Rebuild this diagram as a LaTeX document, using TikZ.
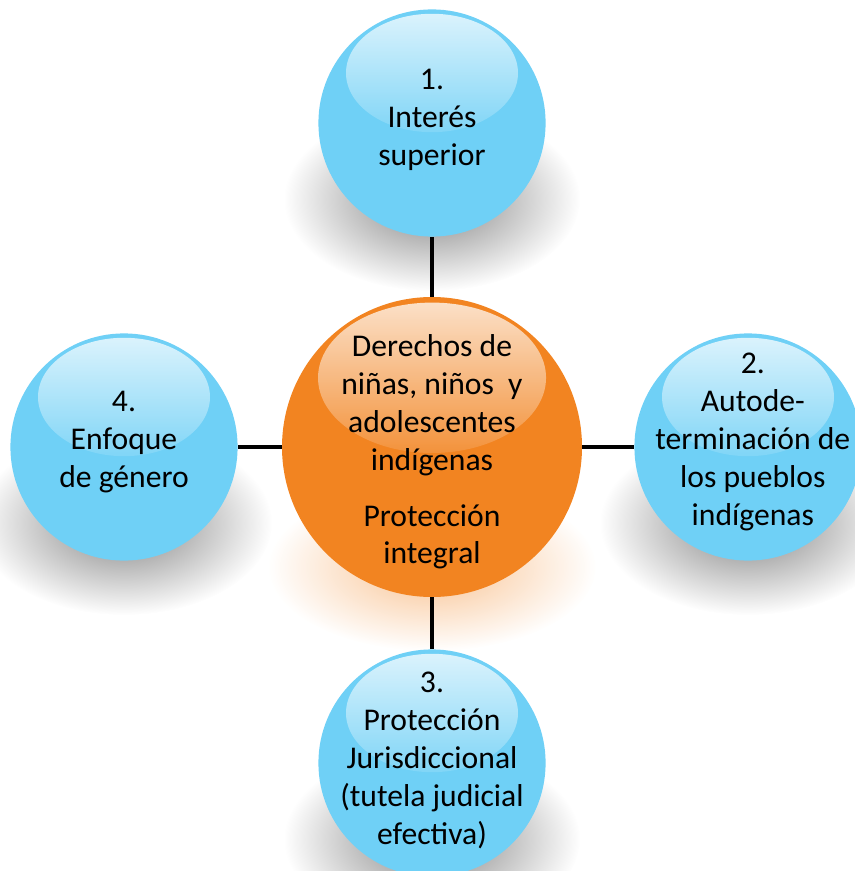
\documentclass[tikz,border=0pt]{standalone}
\usepackage{fontspec}
\setmainfont{Carlito}
\usepackage{tikz}
\usepackage{xcolor}
\usetikzlibrary{calc,fadings,backgrounds}

\definecolor{skyball}{RGB}{111,208,246}
\definecolor{orangeball}{RGB}{242,132,33}

\tikzfading[name=soft glow, inner color=transparent!50, outer color=transparent!100]
\tikzfading[name=shine, top color=transparent!25, bottom color=transparent!88]

\begin{document}
\begin{tikzpicture}
        \tikzstyle{every node}=[circle,inner sep=0pt]
        \tikzstyle{ball}=[fill=skyball,minimum size=5.68cm]
        \tikzstyle{core}=[fill=orangeball,minimum size=7.5cm]
        \tikzstyle{txt}=[rectangle,align=center,font=\fontsize{22.5}{27}\selectfont]
        \tikzstyle{link}=[line width=3.5pt]
        \useasboundingbox (0,0) rectangle (21.35,-21.775);

        \node[core] (0) at (10.8,-11.175) {};
        \node[ball] (1) at ($(0)+(0,8.1)$) {};
        \node[ball] (2) at ($(0)+(7.9,0)$) {};
        \node[ball] (3) at ($(0)+(0,-7.9)$) {};
        \node[ball] (4) at ($(0)+(-7.7,0)$) {};

        % gloss on top of each ball
        \foreach \n in {1,2,3,4}
            \fill[white,path fading=shine] ($(\n)+(0,1.25)$) ellipse (2.15 and 1.48);
        \fill[white,path fading=shine] ($(0)+(0,1.73)$) ellipse (2.85 and 1.88);

        \draw[link] (0) -- (1);
        \draw[link] (0) -- (2);
        \draw[link] (0) -- (3);
        \draw[link] (0) -- (4);

        \node[txt] (t0) at ($(0)+(0,-0.12)$) {Derechos de\\niñas, niños~ y\\adolescentes\\indígenas\\[0.45cm]Protección\\integral};
        \node[txt] (t1) at ($(1)+(0,0.07)$) {1.\\Interés\\superior};
        \node[txt] (t2) at ($(2)+(0.12,0.12)$) {2.\\Autode-\\terminación de\\los pueblos\\indígenas};
        \node[txt] (t3) at ($(3)+(0,0.07)$) {3.\\Protección\\Jurisdiccional\\(tutela judicial\\efectiva)};
        \node[txt] (t4) at ($(4)+(0,0.12)$) {4.\\Enfoque\\de género};

        % shadows
        \begin{scope}[on background layer]
            \foreach \n in {1,2,3,4}
                \fill[black,path fading=soft glow] ($(\n)+(0,-1.9)$) ellipse (3.7 and 2.3);
            \fill[orangeball,path fading=soft glow] ($(0)+(0,-3)$) ellipse (4.1 and 2.1);
        \end{scope}
\end{tikzpicture}
\end{document}
